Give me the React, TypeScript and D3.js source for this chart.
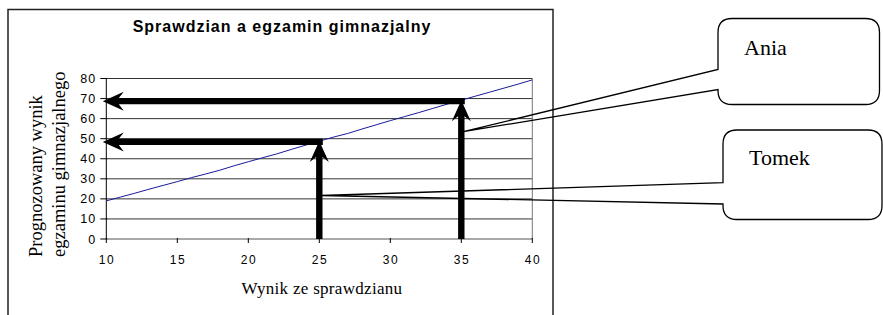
import React from "react";
import * as d3 from "d3";

// wynik ze sprawdzianu (x) i prognozowany wynik egzaminu (y)
const scores = [10, 11, 12, 13, 14, 15, 16, 17, 18, 19, 20, 21, 22, 23, 24, 25, 26, 27, 28, 29, 30, 31, 32, 33, 34, 35, 36, 37, 38, 39, 40];
const predicted = [19.0, 20.9, 22.8, 24.8, 26.7, 28.6, 30.6, 32.4, 34.3, 36.5, 38.5, 40.5, 42.4, 44.6, 46.7, 48.8, 50.8, 52.6, 54.8, 56.9, 59.0, 61.0, 63.0, 65.1, 67.2, 69.2, 71.2, 73.2, 75.2, 77.2, 79.3];

const xTicks = [10, 15, 20, 25, 30, 35, 40];
const yTicks = [0, 10, 20, 30, 40, 50, 60, 70, 80];

const students = ["Ania", "Tomek"];
const studentScores = [35, 25];
const studentPredicted = [68.7, 48.4];

const W = 883, H = 315;
const x = d3.scaleLinear().domain([10, 40]).range([106.3, 532.3]);
const y = d3.scaleLinear().domain([0, 80]).range([239, 78.5]);

// thick arrow polygon with notched head, tip at (x1,y1)
function arrowPath(x0: number, y0: number, x1: number, y1: number) {
  const len = Math.hypot(x1 - x0, y1 - y0);
  const a = Math.atan2(y1 - y0, x1 - x0);
  const L = 21, hw = 9.5, sw = 3.2, notch = 5;
  const pts: [number, number][] = [
    [0, 0], [-L, hw], [-L + notch, sw], [-len, sw],
    [-len, -sw], [-L + notch, -sw], [-L, -hw],
  ];
  const c = Math.cos(a), s = Math.sin(a);
  return "M" + pts.map(([u, v]) => `${x1 + u * c - v * s},${y1 + u * s + v * c}`).join("L") + "Z";
}

// rounded box with a pointer going out of its left side
function calloutPath(bx: number, by: number, bw: number, bh: number, r: number, t1: number, t2: number, px: number, py: number) {
  const p = d3.path();
  p.moveTo(bx + r, by);
  p.lineTo(bx + bw - r, by);
  p.quadraticCurveTo(bx + bw, by, bx + bw, by + r);
  p.lineTo(bx + bw, by + bh - r);
  p.quadraticCurveTo(bx + bw, by + bh, bx + bw - r, by + bh);
  p.lineTo(bx + r, by + bh);
  p.quadraticCurveTo(bx, by + bh, bx, by + bh - r);
  p.lineTo(bx, t2);
  p.lineTo(px, py);
  p.lineTo(bx, t1);
  p.lineTo(bx, by + r);
  p.quadraticCurveTo(bx, by, bx + r, by);
  p.closePath();
  return p.toString();
}

const boxes = [
  { bx: 718, by: 18.5, bw: 161.5, bh: 86, t1: 69.5, t2: 89.5, tipY: 131.7 },
  { bx: 723, by: 130, bw: 159, bh: 89.5, t1: 182.7, t2: 204, tipY: 195.5 },
];
const labelPos = [[744, 55], [749, 165]];

export default function App() {
  const line = d3.line<number>().x((_, i) => x(scores[i])).y((d) => y(d));
  const sans = "Arial, 'Liberation Sans', sans-serif";
  const serif = "'Times New Roman', 'Liberation Serif', serif";

  return (
    <svg width={W} height={H} style={{ position: "absolute", left: 0, top: 0, background: "#fff" }}>
      <rect x={8} y={9.5} width={545} height={330} fill="#fff" stroke="#222" strokeWidth={1.5} />
      <text x={282} y={32} textAnchor="middle" fontFamily={sans} fontWeight="bold" fontSize={16} letterSpacing={1}>
        Sprawdzian a egzamin gimnazjalny
      </text>

      {/* gridlines */}
      {yTicks.slice(1).map((t) => (
        <line key={t} x1={x(10)} x2={x(40)} y1={y(t)} y2={y(t)} stroke="#333" strokeWidth={1} />
      ))}
      <line x1={x(40)} x2={x(40)} y1={y(80)} y2={y(0)} stroke="#777" strokeWidth={1} />

      {/* axes */}
      <line x1={x(10)} x2={x(10)} y1={y(80)} y2={y(0)} stroke="#000" strokeWidth={1} />
      <line x1={x(10)} x2={x(40)} y1={y(0)} y2={y(0)} stroke="#555" strokeWidth={1} />
      {yTicks.map((t) => (
        <g key={t}>
          <line x1={x(10) - 6} x2={x(10) + 1} y1={y(t)} y2={y(t)} stroke="#000" />
          <text x={96.5} y={y(t)} dy="0.36em" textAnchor="end" fontFamily={sans} fontSize={12.5} letterSpacing={1.2}>
            {t}
          </text>
        </g>
      ))}
      {xTicks.map((t) => (
        <g key={t}>
          <line x1={x(t)} x2={x(t)} y1={y(0) - 1} y2={y(0) + 4} stroke="#000" />
          <text x={x(t) + 0.8} y={259.5} dy="0.36em" textAnchor="middle" fontFamily={sans} fontSize={12} letterSpacing={1.6}>
            {t}
          </text>
        </g>
      ))}

      <text x={322} y={294} textAnchor="middle" fontFamily={serif} fontSize={17} letterSpacing={0.3}>
        Wynik ze sprawdzianu
      </text>
      <text transform="translate(42,257) rotate(-90)" fontFamily={serif} fontSize={18.5}>
        Prognozowany wynik
      </text>
      <text transform="translate(65,257) rotate(-90)" fontFamily={serif} fontSize={18.5}>
        egzaminu gimnazjalnego
      </text>

      <path d={line(predicted) || ""} fill="none" stroke="#1a1a9a" strokeWidth={1} />

      {/* arrows */}
      {students.map((s, i) => (
        <g key={s}>
          <path d={arrowPath(x(studentScores[i]) + 3.5, y(studentPredicted[i]), x(10) - 3.5, y(studentPredicted[i]))} fill="#000" />
          <path d={arrowPath(x(studentScores[i]), y(0), x(studentScores[i]), y(studentPredicted[i]) - 1)} fill="#000" />
        </g>
      ))}

      {/* callouts */}
      {students.map((s, i) => {
        const b = boxes[i];
        const px = x(studentScores[i]) + 2;
        return (
          <g key={s}>
            <path d={calloutPath(b.bx, b.by, b.bw, b.bh, 14, b.t1, b.t2, px, b.tipY)} fill="none" stroke="#000" strokeWidth={1.3} />
            <text x={labelPos[i][0]} y={labelPos[i][1]} fontFamily={serif} fontSize={22}>
              {s}
            </text>
          </g>
        );
      })}
    </svg>
  );
}
